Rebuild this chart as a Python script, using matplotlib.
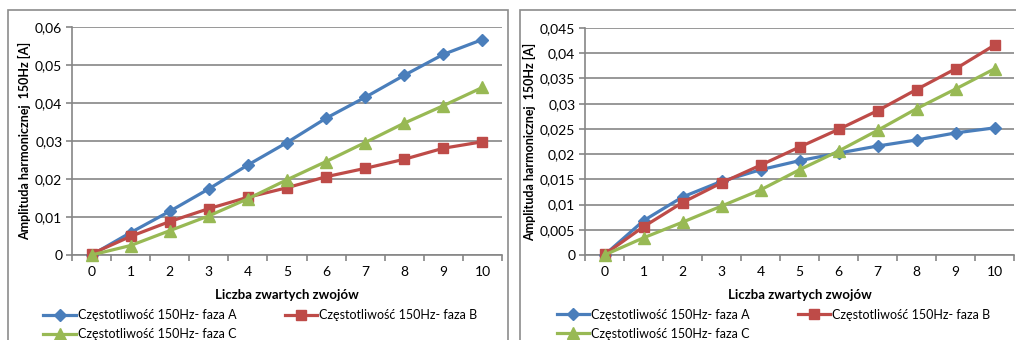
import matplotlib.pyplot as plt
import matplotlib.patches as mpatches
import numpy as np

plt.rcParams['font.family'] = ['Lato', 'DejaVu Sans']

turns = list(range(11))
turn_labels = [str(t) for t in turns]

# left chart
left_a = [0.0, 0.0059, 0.0115, 0.0174, 0.0237, 0.0296, 0.0360, 0.0415, 0.0473, 0.0528, 0.0567]
left_b = [0.0003, 0.0049, 0.0088, 0.0122, 0.0152, 0.0177, 0.0206, 0.0228, 0.0252, 0.0281, 0.0298]
left_c = [0.0, 0.0025, 0.0064, 0.0103, 0.0148, 0.0198, 0.0246, 0.0296, 0.0347, 0.0393, 0.0441]
left_yticks = [0, 0.01, 0.02, 0.03, 0.04, 0.05, 0.06]
left_ylabels = ['0', '0,01', '0,02', '0,03', '0,04', '0,05', '0,06']

# right chart
right_a = [0.0, 0.0068, 0.0115, 0.0146, 0.0169, 0.0187, 0.0202, 0.0216, 0.0228, 0.0242, 0.0252]
right_b = [0.0001, 0.0056, 0.0104, 0.0143, 0.0178, 0.0214, 0.0249, 0.0286, 0.0328, 0.0369, 0.0416]
right_c = [0.0, 0.0034, 0.0065, 0.0097, 0.0129, 0.0169, 0.0206, 0.0247, 0.0290, 0.0329, 0.0369]
right_yticks = [0, 0.005, 0.01, 0.015, 0.02, 0.025, 0.03, 0.035, 0.04, 0.045]
right_ylabels = ['0', '0,005', '0,01', '0,015', '0,02', '0,025', '0,03', '0,035', '0,04', '0,045']

series_names = ['Częstotliwość 150Hz- faza A', 'Częstotliwość 150Hz- faza B', 'Częstotliwość 150Hz- faza C']
colors = ['#4A7EBB', '#BE4B48', '#98B954']
markers = ['D', 's', '^']
msizes = [6, 7.5, 8]
grid_col = '#868686'

fig = plt.figure(figsize=(10.16, 3.4), dpi=100)

# chart frames
for x0, w in [(8, 500), (520, 500)]:
    fig.patches.append(mpatches.Rectangle((x0 / 1016, -0.1), w / 1016, 1.1 - 10 / 340,
                                          transform=fig.transFigure, fill=False,
                                          edgecolor='#8c8c8c', linewidth=1.2))

panels = [
    ([72 / 1016, 0.25, 430 / 1016, 228 / 340], (left_a, left_b, left_c), left_yticks, left_ylabels, 0.06),
    ([585 / 1016, 0.25, 429 / 1016, 227 / 340], (right_a, right_b, right_c), right_yticks, right_ylabels, 0.045),
]

for rect, data, yt, yl, ymax in panels:
    ax = fig.add_axes(rect)
    lines = []
    for vals, name, c, m, ms in zip(data, series_names, colors, markers, msizes):
        ln, = ax.plot(turns, vals, color=c, marker=m, markersize=ms, linewidth=2.3,
                      label=name, clip_on=False, zorder=3)
        lines.append(ln)
    ax.set_xlim(-0.5, 10.5)
    ax.set_ylim(0, ymax)
    ax.set_yticks(yt)
    ax.set_yticklabels(yl)
    ax.set_xticks(turns)
    ax.set_xticklabels(turn_labels)
    ax.set_xticks(np.arange(-0.5, 11, 1), minor=True)
    ax.grid(axis='y', color=grid_col, linewidth=1.2)
    ax.set_axisbelow(True)
    for s in ['top', 'right']:
        ax.spines[s].set_visible(False)
    for s in ['left', 'bottom']:
        ax.spines[s].set_color(grid_col)
        ax.spines[s].set_linewidth(1.2)
    ax.tick_params(axis='x', which='major', length=0, pad=8, labelsize=10)
    ax.tick_params(axis='x', which='minor', length=4, color=grid_col, width=1.2)
    ax.tick_params(axis='y', length=4, color=grid_col, width=1.2, labelsize=10, pad=3)
    ax.set_xlabel('Liczba zwartych zwojów', fontsize=9.5, fontweight='bold', labelpad=8)
    ax.set_ylabel('Amplituda harmonicznej  150Hz [A]', fontsize=9, fontweight='bold', labelpad=3)
    # row-wise order: A, B on first row, C below A
    order = [0, 2, 1]
    ax.legend([lines[i] for i in order], [series_names[i] for i in order],
              loc='upper left', bbox_to_anchor=(-0.078, -0.215), ncol=2, frameon=False,
              fontsize=9, handlelength=2.6, handletextpad=0.15, columnspacing=3.85,
              labelspacing=0.55, borderaxespad=0)

fig.savefig('out.png', dpi=100)
